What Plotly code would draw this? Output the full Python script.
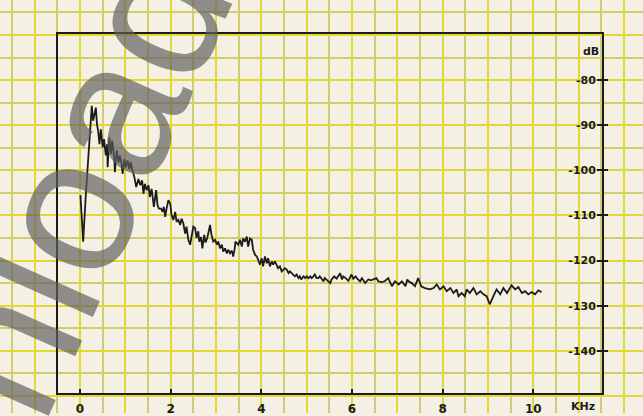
import plotly.graph_objects as go

# ---- data (frequency in kHz, level in dB) ----
freq_khz = [
    0.01, 0.07, 0.13, 0.17, 0.22, 0.26, 0.29, 0.32, 0.35, 0.375, 0.40, 0.43, 0.46, 0.50, 0.53,
    0.57, 0.60, 0.61, 0.65, 0.68, 0.71, 0.76, 0.77, 0.81, 0.85, 0.88, 0.92, 0.94, 0.98, 1.01,
    1.05, 1.09, 1.12, 1.15, 1.20, 1.24, 1.29, 1.33, 1.37, 1.40, 1.43, 1.47, 1.51, 1.54, 1.58,
    1.63, 1.68, 1.71, 1.74, 1.79, 1.82, 1.85, 1.88, 1.91, 1.95, 1.99, 2.02, 2.06, 2.10, 2.13,
    2.17, 2.21, 2.24, 2.28, 2.32, 2.35, 2.39, 2.43, 2.46, 2.50, 2.54, 2.57, 2.61, 2.63, 2.67,
    2.70, 2.74, 2.77, 2.81, 2.87, 2.90, 2.94, 2.98, 3.02, 3.05, 3.09, 3.13, 3.16, 3.20, 3.24,
    3.27, 3.31, 3.35, 3.38, 3.41, 3.43, 3.49, 3.53, 3.57, 3.60, 3.64, 3.68, 3.71, 3.75, 3.79,
    3.82, 3.86, 3.90, 3.93, 3.97, 4.01, 4.04, 4.08, 4.12, 4.15, 4.19, 4.23, 4.26, 4.30, 4.34,
    4.37, 4.41, 4.45, 4.49, 4.52, 4.56, 4.60, 4.63, 4.67, 4.71, 4.74, 4.78, 4.82, 4.85, 4.88,
    4.93, 4.97, 5.00, 5.04, 5.08, 5.11, 5.15, 5.18, 5.22, 5.26, 5.29, 5.33, 5.37, 5.40, 5.44,
    5.48, 5.52, 5.55, 5.61, 5.66, 5.74, 5.78, 5.81, 5.86, 5.92, 5.99, 6.03, 6.08, 6.13, 6.18,
    6.22, 6.29, 6.36, 6.42, 6.47, 6.54, 6.58, 6.65, 6.72, 6.80, 6.88, 6.95, 7.03, 7.10, 7.18,
    7.22, 7.25, 7.32, 7.39, 7.46, 7.53, 7.61, 7.72, 7.80, 7.87, 7.94, 8.02, 8.09, 8.17, 8.24,
    8.31, 8.35, 8.42, 8.49, 8.53, 8.60, 8.68, 8.75, 8.83, 8.90, 8.97, 9.04, 9.12, 9.19, 9.27,
    9.34, 9.42, 9.52, 9.60, 9.67, 9.75, 9.82, 9.89, 9.96, 10.04, 10.11, 10.18,
]
level_db = [
    -105.5, -115.8, -105.2, -99.3, -91.2, -85.7, -89.0, -87.5, -86.1, -89.8, -91.2, -94.2, -90.9, -94.9, -93.1,
    -96.7, -94.2, -99.3, -92.7, -96.4, -93.4, -97.8, -100.4, -95.6, -98.2, -96.7, -98.6, -100.8, -97.5, -99.3,
    -97.8, -99.7, -98.2, -99.7, -101.5, -103.7, -101.9, -103.3, -102.2, -105.2, -103.0, -104.4, -103.3, -105.9, -104.1,
    -108.1, -104.4, -107.7, -108.5, -108.5, -109.2, -108.1, -110.3, -108.5, -106.6, -107.4, -109.9, -111.0, -109.2, -111.4,
    -111.0, -112.1, -110.7, -111.8, -114.0, -112.5, -115.4, -116.5, -114.3, -112.5, -112.8, -115.0, -113.5, -115.8, -114.8,
    -117.3, -114.3, -116.0, -114.9, -112.1, -114.3, -115.8, -115.4, -116.5, -115.8, -117.3, -116.5, -118.0, -117.3, -118.4,
    -117.6, -118.4, -117.8, -119.1, -117.6, -115.8, -116.5, -115.4, -116.9, -115.1, -115.8, -114.7, -116.9, -115.1, -115.4,
    -117.6, -118.7, -119.1, -119.8, -120.9, -119.5, -121.3, -119.1, -120.6, -119.5, -121.3, -120.2, -120.9, -120.2, -121.3,
    -121.7, -121.3, -122.4, -122.0, -121.7, -122.0, -122.8, -122.4, -122.8, -123.1, -123.5, -123.1, -123.9, -123.5, -124.2,
    -123.5, -123.9, -123.5, -123.9, -123.5, -123.9, -123.5, -123.1, -123.9, -123.9, -123.5, -124.2, -124.6, -123.9, -124.2,
    -124.6, -125.0, -124.2, -123.5, -124.0, -122.8, -124.2, -123.5, -123.9, -124.5, -123.1, -124.0, -123.5, -124.2, -124.6,
    -123.9, -125.0, -124.2, -124.4, -124.2, -123.9, -124.6, -124.8, -124.6, -123.9, -125.7, -124.6, -125.3, -124.6, -125.7,
    -124.2, -124.6, -125.0, -125.7, -123.9, -125.7, -126.1, -126.4, -126.1, -125.3, -126.4, -125.7, -126.8, -126.1, -127.2,
    -126.4, -127.9, -127.2, -127.9, -126.4, -127.2, -126.1, -127.5, -126.8, -127.5, -127.9, -129.7, -127.9, -126.4, -127.5,
    -126.1, -127.2, -125.5, -126.4, -125.9, -127.2, -126.8, -127.5, -127.0, -127.5, -126.6, -127.0,
]

x_tick_values = [0, 2, 4, 6, 8, 10]
x_tick_labels = ["0", "2", "4", "6", "8", "10"]
y_tick_values = [-80, -90, -100, -110, -120, -130, -140]
y_tick_labels = ["-80", "-90", "-100", "-110", "-120", "-130", "-140"]

W, H = 643, 416
PAPER = "#f4f0e3"
INK = "#1c1c1c"
GRID_MAJOR = "#e3d732"
GRID_MINOR = "#d3cb70"

fig = go.Figure()

# data trace on the framed chart axes
fig.add_trace(go.Scatter(
    x=freq_khz, y=level_db, mode="lines",
    line=dict(color=INK, width=1.8, shape="linear"),
    xaxis="x2", yaxis="y2", showlegend=False, hoverinfo="skip",
))
# invisible trace to activate the graph-paper subplot
fig.add_trace(go.Scatter(x=[0], y=[-100], mode="markers", marker=dict(opacity=0),
                         xaxis="x", yaxis="y", showlegend=False, hoverinfo="skip"))

fig.update_layout(
    width=W, height=H,
    margin=dict(l=0, r=0, t=0, b=0),
    paper_bgcolor=PAPER, plot_bgcolor="rgba(0,0,0,0)",
    # graph paper: full figure, same scale as the chart
    xaxis=dict(domain=[0, 1], range=[-1.765, 12.42], showticklabels=False, ticks="",
               showgrid=True, gridcolor=GRID_MAJOR, gridwidth=2, dtick=1, tick0=0,
               minor=dict(showgrid=True, dtick=0.5, tick0=0, gridcolor=GRID_MINOR, gridwidth=1.6),
               zeroline=False, showline=False, fixedrange=True),
    yaxis=dict(domain=[0, 1], range=[-153.8, -62.24], showticklabels=False, ticks="",
               showgrid=True, gridcolor=GRID_MAJOR, gridwidth=2, dtick=10, tick0=-80,
               minor=dict(showgrid=True, dtick=5, tick0=-80, gridcolor=GRID_MINOR, gridwidth=1.6),
               zeroline=False, showline=False, fixedrange=True),
    # framed chart
    xaxis2=dict(domain=[58 / W, 601.7 / W], range=[-0.485, 11.509], anchor="y2",
                showgrid=False, zeroline=False, showline=True, mirror=True,
                linecolor=INK, linewidth=2,
                ticks="inside", ticklen=4, tickwidth=1.5, tickcolor=INK,
                tickvals=x_tick_values, ticktext=x_tick_labels,
                tickfont=dict(family="DejaVu Sans", size=12, color=INK, weight="bold"),
                ticklabelstandoff=3, fixedrange=True),
    yaxis2=dict(domain=[(H - 396) / H, (H - 34) / H], range=[-149.40, -69.72], anchor="x2",
                side="right", showgrid=False, zeroline=False, showline=True, mirror=True,
                linecolor=INK, linewidth=2,
                ticks="inside", ticklen=5, tickwidth=1.5, tickcolor=INK,
                tickvals=y_tick_values, ticktext=y_tick_labels,
                ticklabelposition="inside",
                minor=dict(ticks="outside", ticklen=4, tickwidth=1.5, tickcolor=INK,
                           tickvals=y_tick_values),
                tickfont=dict(family="DejaVu Sans", size=11, color=INK, weight="bold"),
                fixedrange=True),
    annotations=[
        dict(text="dB", xref="paper", yref="paper", x=591 / W, y=1 - 52 / H,
             xanchor="center", yanchor="middle",
             showarrow=False, font=dict(family="DejaVu Sans", size=11, color=INK, weight="bold")),
        dict(text="KHz", xref="paper", yref="paper", x=583 / W, y=1 - 409 / H,
             xanchor="center", yanchor="middle",
             showarrow=False, font=dict(family="DejaVu Sans", size=11, color=INK, weight="bold")),
        dict(text="Download", xref="paper", yref="paper", x=-1 / W, y=1 - 364 / H,
             xanchor="center", yanchor="middle", textangle=-66, showarrow=False,
             font=dict(family="Liberation Sans", size=195, color="rgba(95,95,95,0.68)")),
    ],
)

fig.write_html(
    "out.html",
    config={"displayModeBar": False},
    post_script="document.body.style.margin='0px';document.body.style.overflow='hidden';",
)
